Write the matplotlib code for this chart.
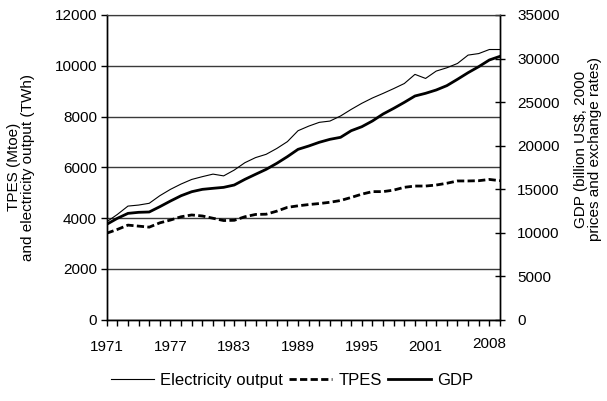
"""
TPES, electricity output and GDP, 1971-2008.
"""

import matplotlib
matplotlib.use('Agg')
import matplotlib.pyplot as plt
from matplotlib.lines import Line2D
import numpy as np

YEARS = list(range(1971, 2009))

ELECTRICITY = [
    3850, 4140, 4470, 4510, 4580, 4880, 5130, 5340, 5520, 5630,
    5730, 5660, 5890, 6180, 6380, 6510, 6740, 7010, 7440, 7620,
    7770, 7820, 8020, 8280, 8520, 8730, 8910, 9100, 9300, 9660,
    9500, 9790, 9920, 10090, 10420, 10480, 10640, 10640]

TPES = [
    3400, 3550, 3720, 3680, 3640, 3810, 3920, 4050, 4120, 4080,
    3990, 3900, 3910, 4050, 4140, 4150, 4270, 4420, 4480, 4530,
    4570, 4620, 4690, 4810, 4940, 5040, 5040, 5100, 5210, 5260,
    5260, 5300, 5370, 5460, 5460, 5470, 5520, 5470]

GDP = [
    10940, 11630, 12200, 12320, 12360, 12970, 13620, 14230, 14690, 14960,
    15080, 15190, 15460, 16110, 16690, 17260, 17950, 18720, 19560, 19940,
    20370, 20710, 20940, 21700, 22160, 22820, 23620, 24270, 24960, 25690,
    26000, 26380, 26880, 27610, 28370, 29060, 29830, 30250]

LABEL_YEARS = [1971, 1977, 1983, 1989, 1995, 2001]

FONT = 'Liberation Sans'
FS = 11
GRID = '#3a3a3a'


def main():

    plt.rcParams['font.family'] = FONT
    plt.rcParams['font.size'] = FS

    fig = plt.figure(figsize=(6.07, 4.01), dpi=100)
    ax = fig.add_axes([0.1758, 0.2032, 0.6479, 0.7594])
    ax2 = ax.twinx()

    years = np.array(YEARS)
    ax.plot(years, ELECTRICITY, color='black', lw=0.8)
    ax.plot(years, TPES, color='black', lw=2.0, dashes=(2.6, 1.2))
    ax2.plot(years, GDP, color='black', lw=2.0)

    ax.set_xlim(1971, 2008)
    ax.set_ylim(0, 12000)
    ax2.set_ylim(0, 35000)

    ax.set_yticks(range(0, 12001, 2000))
    ax2.set_yticks(range(0, 35001, 5000))
    ax.set_xticks(LABEL_YEARS)
    ax.set_xticklabels([str(y) for y in LABEL_YEARS])
    ax.set_xticks(YEARS, minor=True)
    # The last label sits one category in, as in the original.
    ax.text(2007, -0.057, '2008', transform=ax.get_xaxis_transform(),
            ha='center', va='top', fontsize=FS)

    ax.yaxis.grid(True, color=GRID, lw=1.0)
    ax.set_axisbelow(True)

    for a in (ax, ax2):
        a.spines['top'].set_color(GRID)
        for s in ('left', 'right', 'bottom'):
            a.spines[s].set_color('black')
            a.spines[s].set_linewidth(1.0)

    ax.tick_params(axis='y', direction='out', length=4, width=1, pad=3)
    ax.tick_params(axis='x', which='both', direction='out', length=4,
                   width=1, pad=11)
    ax2.tick_params(axis='y', direction='inout', length=7, width=1, pad=9)

    # Axis titles placed on the figure so their centres are exact.
    fig.text(0.034, 0.583, 'TPES (Mtoe)\nand electricity output (TWh)',
             rotation=90, ha='center', va='center', fontsize=FS,
             linespacing=1.0, multialignment='center')
    fig.text(0.9687, 0.628,
             'GDP (billion US\\$, 2000\nprices and exchange rates)',
             rotation=90, ha='center', va='center', fontsize=FS,
             linespacing=1.0, multialignment='center')

    handles = [
        Line2D([], [], color='black', lw=0.8),
        Line2D([], [], color='black', lw=2.0, dashes=(2.6, 1.2)),
        Line2D([], [], color='black', lw=2.0),
    ]
    fig.legend(handles, ['Electricity output', 'TPES', 'GDP'],
               loc='center', bbox_to_anchor=(0.481, 0.052), ncol=3,
               frameon=False, handlelength=2.6, handletextpad=0.36,
               columnspacing=0.36, fontsize=12)

    fig.savefig('out.png', dpi=100)


if __name__ == '__main__':
    main()
